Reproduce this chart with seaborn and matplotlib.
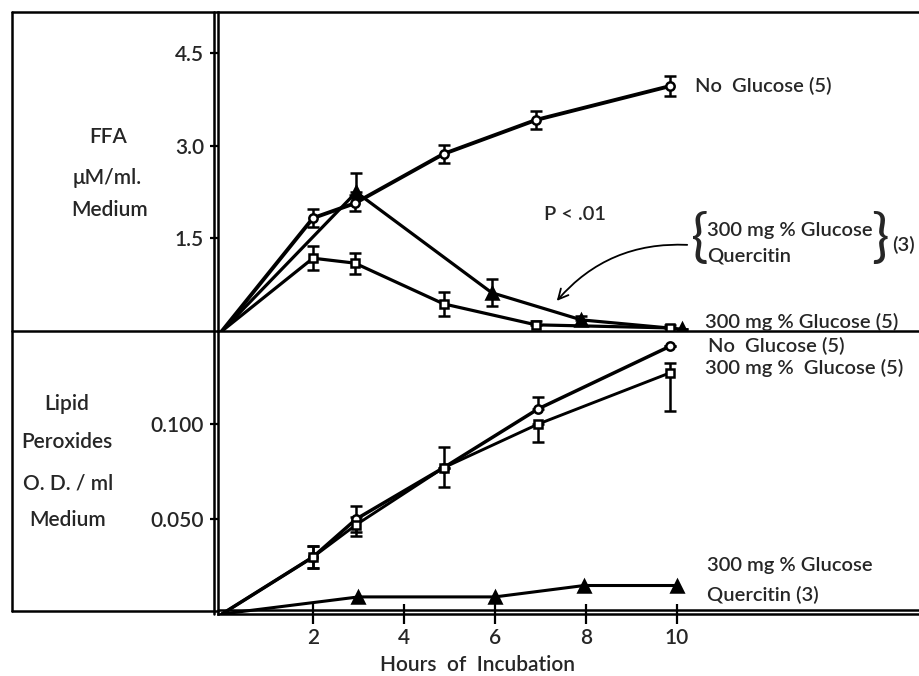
import numpy as np
import pandas as pd
import matplotlib
matplotlib.use("Agg")
import matplotlib.pyplot as plt
import seaborn as sns
from matplotlib.lines import Line2D

# FFA panel (upper)
hours_ffa = [2, 2.92, 4.87, 6.9, 9.85]
ffa_no_glucose = [1.83, 2.07, 2.87, 3.42, 3.97]
ffa_no_glucose_err = [0.15, 0.13, 0.15, 0.15, 0.16]
ffa_glucose = [1.18, 1.10, 0.44, 0.10, 0.05]
ffa_glucose_lo = [0.19, 0.17, 0.20, 0.0, 0.0]
ffa_glucose_hi = [0.19, 0.17, 0.20, 0.06, 0.05]
hours_querc = [2.95, 5.93, 7.9, 10.1]
ffa_querc = [2.25, 0.62, 0.18, 0.03]
ffa_querc_lo = [0.0, 0.22, 0.0, 0.0]
ffa_querc_hi = [0.31, 0.22, 0.06, 0.0]

# Lipid peroxide panel (lower)
hours_lp = [2, 2.95, 4.87, 6.95, 9.85]
lp_no_glucose = [0.030, 0.050, 0.077, 0.108, 0.141]
lp_no_glucose_lo = [0.006, 0.007, 0.0, 0.0, 0.0]
lp_no_glucose_hi = [0.006, 0.007, 0.0, 0.006, 0.0]
lp_glucose = [0.030, 0.047, 0.077, 0.100, 0.127]
lp_glucose_lo = [0.006, 0.006, 0.010, 0.0095, 0.020]
lp_glucose_hi = [0.006, 0.004, 0.011, 0.0, 0.005]
hours_lp_q = [3, 6, 7.96, 10]
lp_querc = [0.009, 0.009, 0.015, 0.015]

W, H = 919, 676
sns.set_style("white")
plt.rcParams['font.family'] = ['Lato', 'DejaVu Sans']
plt.rcParams['font.weight'] = 'semibold'

fig = plt.figure(figsize=(W / 100, H / 100), dpi=100)


def fx(x):
    return x / W


def fy(y):
    return 1 - y / H


# axes placed in pixel terms of the reference
ax1 = fig.add_axes([fx(218), fy(331), (919 - 218) / W, (331 - 12) / H])
ax2 = fig.add_axes([fx(218), fy(614), (919 - 218) / W, (614 - 331) / H])

for ax in (ax1, ax2):
    ax.set_xlim(-0.088, 15.32)
    for s in ['top', 'right', 'bottom']:
        ax.spines[s].set_visible(False)
    ax.spines['left'].set_linewidth(1.8)
    ax.spines['left'].set_color('black')
    ax.set_facecolor('none')
ax2.spines['bottom'].set_visible(True)
ax2.spines['bottom'].set_linewidth(1.8)
ax2.spines['bottom'].set_color('black')

ax1.set_ylim(0, 5.17)
ax2.set_ylim(0, 0.149)


def series(ax, hrs, vals, lw, marker, ms, face, lo=None, hi=None):
    sns.lineplot(x=[0] + list(hrs), y=[0] + list(vals), ax=ax, color='black',
                 linewidth=lw, sort=False, estimator=None, zorder=2)
    yerr = None
    if lo is not None:
        yerr = np.array([lo, hi])
    ax.errorbar(hrs, vals, yerr=yerr, fmt=marker, ms=ms, mfc=face, mec='black',
                mew=1.8, ecolor='black', elinewidth=1.8, capsize=4, capthick=1.8,
                zorder=3)


series(ax1, hours_ffa, ffa_no_glucose, 2.8, 'o', 6, 'white',
       ffa_no_glucose_err, ffa_no_glucose_err)
series(ax1, hours_ffa, ffa_glucose, 2.3, 's', 6, 'white',
       ffa_glucose_lo, ffa_glucose_hi)
series(ax1, hours_querc, ffa_querc, 2.3, '^', 8, 'black',
       ffa_querc_lo, ffa_querc_hi)

series(ax2, hours_lp, lp_no_glucose, 2.5, 'o', 6, 'white',
       lp_no_glucose_lo, lp_no_glucose_hi)
series(ax2, hours_lp, lp_glucose, 2.1, 's', 6, 'white',
       lp_glucose_lo, lp_glucose_hi)
series(ax2, hours_lp_q, lp_querc, 2.2, '^', 9, 'black')

# ticks
ax1.set_xticks([])
ax1.set_yticks([1.5, 3.0, 4.5])
ax1.set_yticklabels(['1.5', '3.0', '4.5'])
ax2.set_yticks([0.05, 0.1])
ax2.set_yticklabels(['0.050', '0.100'])
ax2.set_xticks([2, 4, 6, 8, 10])
ax2.set_xticklabels(['2', '4', '6', '8', '10'])
for ax in (ax1, ax2):
    ax.tick_params(axis='y', direction='out', length=6, width=1.6,
                   labelsize=15, pad=4, color='black', left=True)
ax2.tick_params(axis='x', direction='inout', length=14, width=1.6,
                labelsize=15, pad=3, color='black', bottom=True)
fig.text(fx(477), fy(665), 'Hours  of  Incubation', ha='center', va='center',
         fontsize=15)

# frame lines
frame = [
    ((12, 919), (12, 12)),
    ((12, 919), (331, 331)),
    ((12, 12), (12, 611)),
    ((12, 218), (611, 611)),
    ((214, 214), (12, 614)),
    ((218, 919), (610, 610)),
]
for xs, ys in frame:
    fig.add_artist(Line2D([fx(v) for v in xs], [fy(v) for v in ys],
                          color='black', linewidth=1.8))

# side labels
for txt, x, y in [('FFA', 108, 137), ('\u03bcM/ml.', 107, 178), ('Medium', 110, 210),
                  ('Lipid', 67, 404), ('Peroxides', 67, 442),
                  ('O. D. / ml', 68, 483), ('Medium', 68, 520)]:
    fig.text(fx(x), fy(y), txt, ha='center', va='center', fontsize=15)

# series labels
for txt, x, y in [('No  Glucose (5)', 695, 86),
                  ('300 mg % Glucose (5)', 705, 322),
                  ('No  Glucose (5)', 708, 346),
                  ('300 mg %  Glucose (5)', 705, 368),
                  ('300 mg % Glucose', 707, 566),
                  ('Quercitin (3)', 707, 595),
                  ('300 mg % Glucose', 707, 230),
                  ('Quercitin', 707, 256)]:
    fig.text(fx(x), fy(y), txt, ha='left', va='center', fontsize=14.5)

fig.text(fx(575), fy(215), 'P < .01', ha='center', va='center', fontsize=14.5)
fig.text(fx(700), fy(240), '{', ha='center', va='center', fontsize=42,
         fontweight='normal')
fig.text(fx(880), fy(240), '}', ha='center', va='center', fontsize=42,
         fontweight='normal')
fig.text(fx(892), fy(245), '(3)', ha='left', va='center', fontsize=14.5)

ax1.annotate('', xy=((555 - 222) / 45.5, (331 - 303) / 61.7),
             xytext=((690 - 222) / 45.5, (331 - 245) / 61.7),
             arrowprops=dict(arrowstyle='->', color='black', lw=1.3,
                             connectionstyle='arc3,rad=0.25',
                             mutation_scale=18))

fig.savefig('out.png', dpi=100)
